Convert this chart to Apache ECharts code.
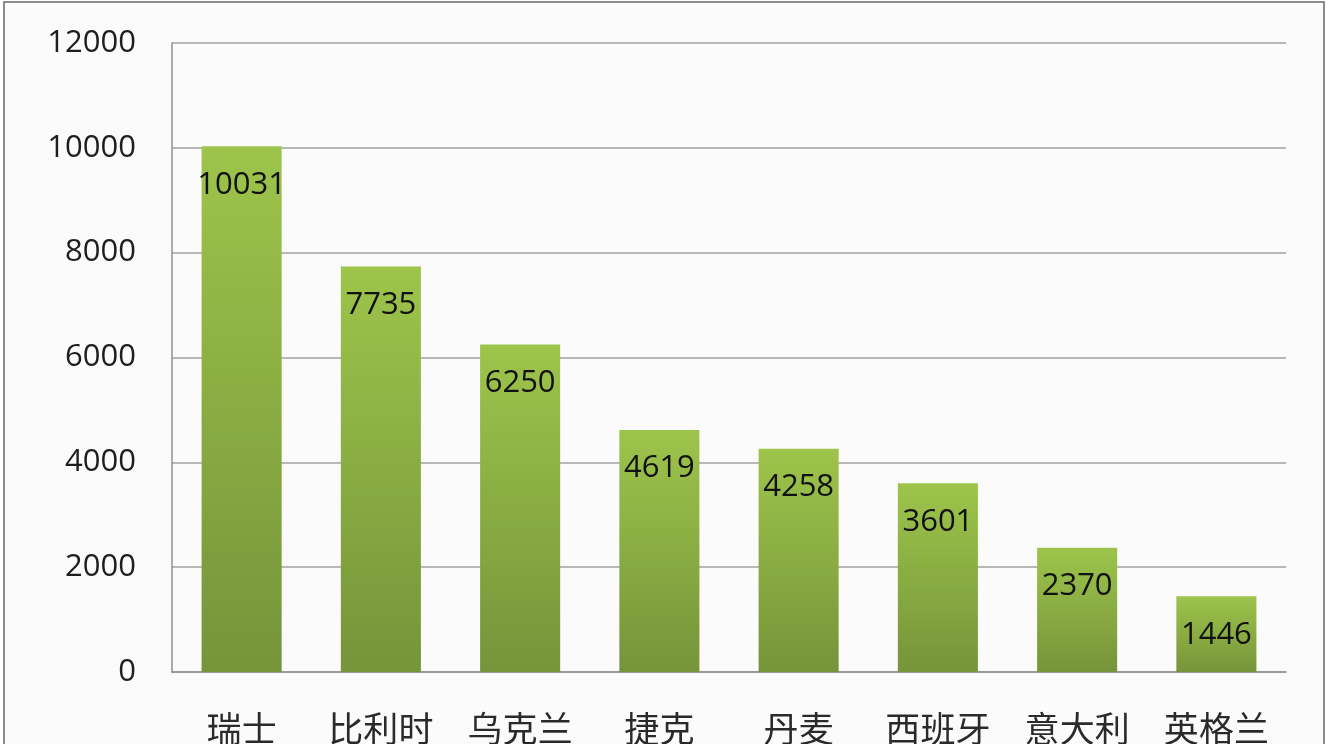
<!DOCTYPE html>
<html><head><meta charset="utf-8">
<script src="https://cdn.jsdelivr.net/npm/echarts@6/dist/echarts.min.js"></script>
<style>
html,body{margin:0;padding:0;width:1334px;height:744px;overflow:hidden;background:#ffffff;}
#frame{position:absolute;left:3px;top:1px;width:1322px;height:800px;border:2px solid #8c8c8c;background:#fbfbfc;box-sizing:border-box;}
#chart{position:absolute;left:0;top:0;width:1334px;height:744px;}
</style></head>
<body>
<div id="frame"></div>
<div id="chart"></div>
<script>
const categories = ['瑞士','比利时','乌克兰','捷克','丹麦','西班牙','意大利','英格兰'];
const values = [10031, 7735, 6250, 4619, 4258, 3601, 2370, 1446];
const yTicks = [0, 2000, 4000, 6000, 8000, 10000, 12000];

const chart = echarts.init(document.getElementById('chart'), null, {renderer:'canvas'});
chart.setOption({
  backgroundColor: 'transparent',
  animation: false,
  grid: {left: 172, right: 48, top: 43, bottom: 72, containLabel: false, outerBoundsMode: 'none'},
  xAxis: {
    type: 'category',
    data: categories,
    axisLine: {show: true, lineStyle: {color: '#8f8f8f', width: 1.5}},
    axisTick: {show: false},
    axisLabel: {
      margin: 39, color: '#2a2a2a', fontSize: 35,
      fontFamily: '"Noto Sans CJK SC", sans-serif', verticalAlign: 'top'
    }
  },
  yAxis: {
    type: 'value',
    min: yTicks[0], max: yTicks[yTicks.length-1], interval: 2000,
    axisLine: {show: true, lineStyle: {color: '#8f8f8f', width: 1.5}},
    axisTick: {show: false},
    splitLine: {show: true, lineStyle: {color: '#a0a0a0', width: 1.5}},
    axisLabel: {margin: 36, color: '#1e1e1e', fontSize: 31, fontWeight: 500,
      fontFamily: '"Open Sans", sans-serif', formatter: v => String(v)}
  },
  series: [{
    type: 'bar',
    data: values,
    barWidth: '57.5%',
    itemStyle: {
      color: new echarts.graphic.LinearGradient(0, 0, 0, 1, [
        {offset: 0, color: '#9dc44b'},
        {offset: 1, color: '#76943a'}
      ])
    },
    label: {
      show: true, position: 'insideTop', distance: 23,
      color: '#111', fontSize: 31, fontWeight: 500, fontFamily: '"Open Sans", sans-serif'
    }
  }]
});
</script>
</body></html>
